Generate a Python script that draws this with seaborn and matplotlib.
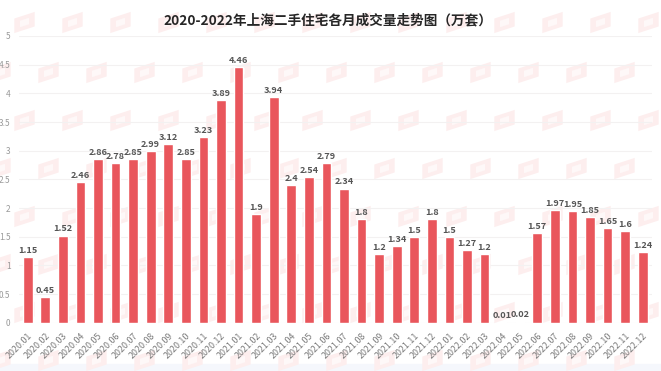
import numpy as np
import pandas as pd
import matplotlib
matplotlib.use("Agg")
import matplotlib.pyplot as plt
from matplotlib.markers import MarkerStyle
from matplotlib.patches import Rectangle
from matplotlib.transforms import Affine2D
import seaborn as sns

sns.set_theme(style="white")
plt.rcParams['font.family'] = ['Noto Sans CJK SC', 'DejaVu Sans']

months = ["2020.01", "2020.02", "2020.03", "2020.04", "2020.05", "2020.06",
          "2020.07", "2020.08", "2020.09", "2020.10", "2020.11", "2020.12",
          "2021.01", "2021.02", "2021.03", "2021.04", "2021.05", "2021.06",
          "2021.07", "2021.08", "2021.09", "2021.10", "2021.11", "2021.12",
          "2022.01", "2022.02", "2022.03", "2022.04", "2022.05", "2022.06",
          "2022.07", "2022.08", "2022.09", "2022.10", "2022.11", "2022.12"]
volume = [1.15, 0.45, 1.52, 2.46, 2.86, 2.78, 2.85, 2.99, 3.12, 2.85, 3.23, 3.89,
          4.46, 1.9, 3.94, 2.4, 2.54, 2.79, 2.34, 1.8, 1.2, 1.34, 1.5, 1.8,
          1.5, 1.27, 1.2, 0.01, 0.02, 1.57, 1.97, 1.95, 1.85, 1.65, 1.6, 1.24]
yticks = [0, 0.5, 1, 1.5, 2, 2.5, 3, 3.5, 4, 4.5, 5]
ytick_labels = ["0", "0.5", "1", "1.5", "2", "2.5", "3", "3.5", "4", "4.5", "5"]
title = "2020-2022年上海二手住宅各月成交量走势图（万套）"

W, H = 661, 371
fig = plt.figure(figsize=(W / 100, H / 100), dpi=100, facecolor="white")

# pale strip along the bottom of the screenshot
fig.add_artist(Rectangle((0, 0), 1, 7 / H, transform=fig.transFigure,
                         color="#f5f7fc", zorder=-5))

# watermark layer, staggered flags behind the chart
bg = fig.add_axes([0, 0, 1, 1], zorder=0)
bg.set_xlim(0, W)
bg.set_ylim(H, 0)
bg.axis("off")
flag = MarkerStyle("s", transform=Affine2D().scale(1.4, 1).skew_deg(0, 18))
for i, wy in enumerate([22, 72, 120, 168, 216, 264, 312, 360]):
    start = 24 if i % 2 == 0 else 0
    wx = np.arange(start, W + 20, 48)
    bg.scatter(wx, np.full(len(wx), wy), marker=flag, s=110, color="#fdeeee",
               linewidths=0)
    bg.scatter(wx, np.full(len(wx), wy), marker=flag, s=22, color="#fef8f8",
               linewidths=0)

ax = fig.add_axes([18.9 / W, 1 - 322.7 / H, (651.5 - 18.9) / W, (322.7 - 36) / H], zorder=1)
ax.patch.set_alpha(0)

df = pd.DataFrame({"month": months, "volume": volume})
sns.barplot(data=df, x="month", y="volume", order=months, color="#e9565c",
            saturation=1, width=0.55, ax=ax, zorder=3)

for i, v in enumerate(volume):
    ax.annotate(f"{v:g}", (i, v), xytext=(0, 1.5), textcoords="offset points",
                ha="center", va="bottom", fontsize=6.6, fontweight="bold",
                color="#555555", zorder=4)

ax.set_xlim(-0.5, len(months) - 0.5)
ax.set_ylim(0, 5)
ax.set_yticks(yticks, ytick_labels)
ax.set_xlabel("")
ax.set_ylabel("")
ax.grid(axis="y", color="#f3f1f1", linewidth=0.8, zorder=0)
ax.set_axisbelow(True)
sns.despine(ax=ax, left=True, bottom=True)
ax.tick_params(axis="y", length=0, pad=6, labelsize=6, labelcolor="#9a9a9a")
ax.tick_params(axis="x", length=0, pad=6, labelsize=6.4, labelcolor="#7a7a7a")
plt.setp(ax.get_xticklabels(), rotation=45, ha="right", rotation_mode="anchor")

fig.text(328 / W, 1 - 20 / H, title, ha="center", va="center", fontsize=9.8,
         fontweight="bold", color="#262626")

fig.savefig("out.png", dpi=100)
